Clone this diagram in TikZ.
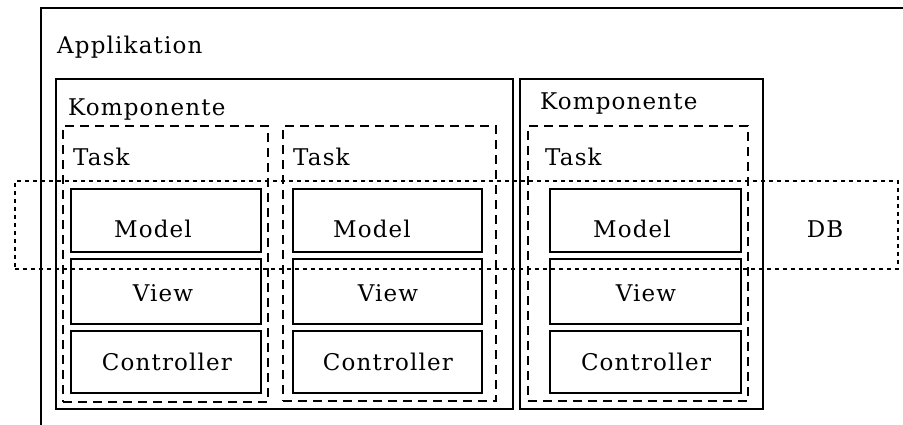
\documentclass[tikz,border=0pt]{standalone}
\usepackage{fontspec}
\setmainfont{DejaVu Serif}[LetterSpace=5]
\usetikzlibrary{fit}
\begin{document}
\begin{tikzpicture}[x=1pt,y=-1pt,
  solidbox/.style={draw=black, line width=1.5pt, inner sep=0pt},
  taskbox/.style={draw=black, line width=1.3pt, dash pattern=on 9pt off 6pt, inner sep=0pt},
  dbbox/.style={draw=black, line width=1.3pt, dash pattern=on 4pt off 4pt, inner sep=0pt},
  lbl/.style={inner sep=0pt, font=\fontsize{23}{27}\selectfont}
]
\useasboundingbox (0,0) rectangle (903,424);
\clip (0,0) rectangle (903,424);
% Application
\node[solidbox, fit={(41,8) (940,450)}] (app) {};
% Komponenten
\node[solidbox, fit={(56,79) (513,409)}] (k1) {};
\node[solidbox, fit={(520,79) (763,409)}] (k2) {};
% Tasks
\node[taskbox, fit={(63,126) (268,402)}] (t1) {};
\node[taskbox, fit={(283,126) (496,401)}] (t2) {};
\node[taskbox, fit={(528,126) (748,401)}] (t3) {};
% MVC boxes
\node[solidbox, fit={(71,189) (261,252)}] (m1) {};
\node[solidbox, fit={(71,259) (261,324)}] (v1) {};
\node[solidbox, fit={(71,331) (261,393)}] (c1) {};
\node[solidbox, fit={(293,189) (482,252)}] (m2) {};
\node[solidbox, fit={(293,259) (482,324)}] (v2) {};
\node[solidbox, fit={(293,331) (482,393)}] (c2) {};
\node[solidbox, fit={(550,189) (741,252)}] (m3) {};
\node[solidbox, fit={(550,259) (741,324)}] (v3) {};
\node[solidbox, fit={(550,331) (741,393)}] (c3) {};
% labels
\node[lbl, anchor=base west] (tapp) at (57,53) {Applikation};
\node[lbl, anchor=base west] (tk1) at (68,115) {Komponente};
\node[lbl, anchor=base west] (tk2) at (540,109) {Komponente};
\node[lbl, anchor=base west] (tt1) at (73,165) {Task};
\node[lbl, anchor=base west] (tt2) at (293,165) {Task};
\node[lbl, anchor=base west] (tt3) at (545,165) {Task};
\node[lbl, anchor=base] (tm1) at (153,237) {Model};
\node[lbl, anchor=base] (tm2) at (372,237) {Model};
\node[lbl, anchor=base] (tm3) at (632,237) {Model};
\node[lbl, anchor=base] (tv1) at (163,301) {View};
\node[lbl, anchor=base] (tv2) at (388,301) {View};
\node[lbl, anchor=base] (tv3) at (646,301) {View};
\node[lbl, anchor=base] (tc1) at (167,370) {Controller};
\node[lbl, anchor=base] (tc2) at (388,370) {Controller};
\node[lbl, anchor=base] (tc3) at (646,370) {Controller};
% DB
\node[dbbox, fit={(15,181) (898,269)}] (db) {};
\node[lbl, anchor=base] (tdb) at (825,237) {DB};
\end{tikzpicture}
\end{document}
